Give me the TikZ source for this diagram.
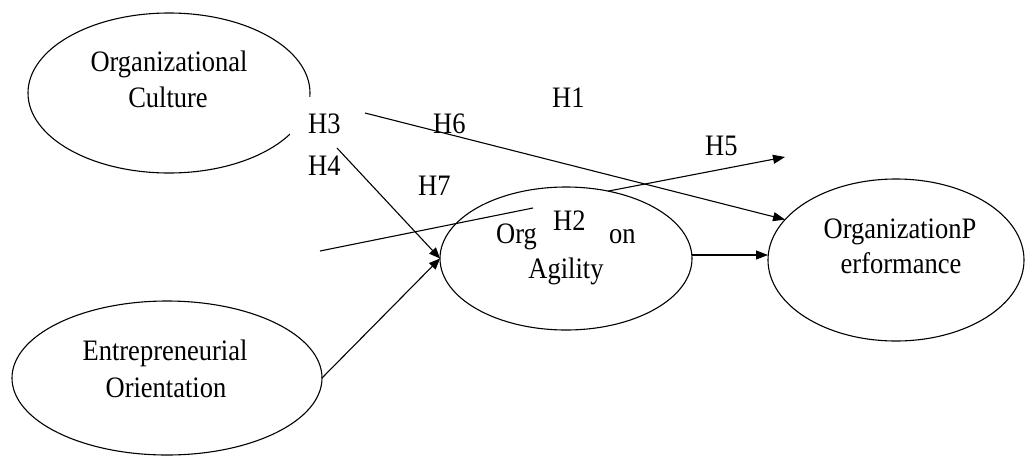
\documentclass[tikz,border=0pt]{standalone}
\usepackage{fontspec}
\usepackage{graphicx}
\setmainfont{Liberation Serif}
\usetikzlibrary{shapes.geometric,arrows.meta}
\newcommand\tallfont[1]{\scalebox{1}[1.12]{#1}}
\begin{document}
\begin{tikzpicture}[x=1pt,y=-1pt,
  oval/.style={draw,ellipse,line width=1.1pt,inner sep=0pt,outer sep=0pt},
  txt/.style={anchor=base,inner sep=0pt,font=\fontsize{26.5}{37}\selectfont},
  lbl/.style={anchor=base west,inner sep=0pt,font=\fontsize{26.5}{37}\selectfont},
  conn/.style={line width=1.1pt},
  arr/.style={conn,-{Triangle[length=12pt,width=9pt]}},
  sarr/.style={conn,-{Triangle[length=11pt,width=9pt]}}]
\useasboundingbox (0,0) rectangle (1025,456);
% ellipses
\node[oval,minimum width=282pt,minimum height=160pt] (oc) at (169,93) {};
\node[oval,minimum width=310pt,minimum height=154pt] (eo) at (167,378) {};
\node[oval,minimum width=252pt,minimum height=143pt] (oa) at (566,258.5) {};
\node[oval,minimum width=256pt,minimum height=162pt] (op) at (896,260) {};
% gap in the culture ellipse behind H3
\fill[white] (290,97) rectangle (344,140);
% ellipse texts
\node[txt] (oc1) at (169,71) {\tallfont{Organizational}};
\node[txt] (oc2) at (168,107) {\tallfont{Culture}};
\node[txt] (eo1) at (165,360) {\tallfont{Entrepreneurial}};
\node[txt] (eo2) at (166,397) {\tallfont{Orientation}};
\node[lbl] (oa1) at (496,243) {\tallfont{Org}};
\node[lbl] (oa2) at (609,243) {\tallfont{on}};
\node[txt] (oa3) at (566,278) {\tallfont{Agility}};
\node[txt] (op1) at (900,238) {\tallfont{OrganizationP}};
\node[txt] (op2) at (901,273) {\tallfont{erformance}};
% hypothesis labels
\node[lbl] (h1) at (552,107) {\tallfont{H1}};
\node[lbl] (h2) at (553,230) {\tallfont{H2}};
\node[lbl] (h3) at (308,133) {\tallfont{H3}};
\node[lbl] (h4) at (308,175) {\tallfont{H4}};
\node[lbl] (h5) at (705,155) {\tallfont{H5}};
\node[lbl] (h6) at (433,133) {\tallfont{H6}};
\node[lbl] (h7) at (418,195) {\tallfont{H7}};
% free ends
\coordinate (h6s) at (365,113);
\coordinate (h4s) at (337,148);
\coordinate (h7s) at (320,251);
\coordinate (h7e) at (533,208);
\coordinate (h5e) at (785,157);
% connectors
\draw[arr] (h6s) -- (op.160);
\draw[sarr] (h4s) -- (oa.west);
\draw[sarr] (eo.east) -- (oa.west);
\draw[conn] (h7s) -- (h7e);
\draw[arr] (oa.58) -- (h5e);
\draw[arr] (oa.east |- 0,255) coordinate (oae) -- (op.west |- oae);
\end{tikzpicture}
\end{document}
